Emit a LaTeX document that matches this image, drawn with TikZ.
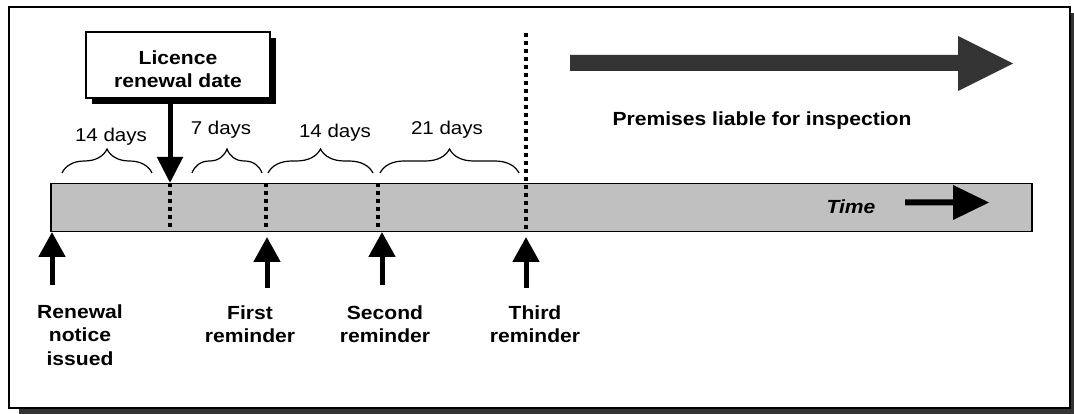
\documentclass[tikz,border=0pt]{standalone}
\usepackage{fontspec}
\setmainfont{Liberation Sans}[FakeStretch=1.11]
\usetikzlibrary{arrows.meta,decorations.pathreplacing}
\definecolor{bargray}{HTML}{C0C0C0}
\definecolor{darkarrow}{HTML}{333333}
\begin{document}
\begin{tikzpicture}[x=1pt,y=-1pt,
  lbl/.style={font=\fontsize{19}{23.5}\selectfont\bfseries, align=center, inner sep=0pt},
  daylbl/.style={font=\fontsize{18.5}{22}\selectfont, inner sep=0pt},
  upar/.style={line width=5pt, -{Triangle[width=26pt,length=25pt]}},
  dots/.style={line width=4pt, dash pattern=on 4pt off 4pt},
  bracestyle/.style={line width=1.2pt, decorate, decoration={brace, amplitude=24pt}}]
\useasboundingbox (0,0) rectangle (1074,414);
% frame with shadow
\fill[darkarrow] (19,13) rectangle (1080,420);
\draw[line width=1.5pt, fill=white] (9,7) rectangle (1070,408);

% time bar
\node[draw=black, line width=1.5pt, fill=bargray, minimum width=981pt, minimum height=48pt, inner sep=0pt, anchor=north west] (bar) at (50,183) {};

% dotted lines
\coordinate (d1t) at (170,183); \coordinate (d1b) at (170,231);
\coordinate (d2t) at (266,183); \coordinate (d2b) at (266,231);
\coordinate (d3t) at (378,183); \coordinate (d3b) at (378,231);
\coordinate (d4t) at (526,33);  \coordinate (d4b) at (526,231);
\draw[dots] (d1t) -- (d1b);
\draw[dots] (d2t) -- (d2b);
\draw[dots] (d3t) -- (d3b);
\draw[dots] (d4t) -- (d4b);

% licence box
\fill[black] (92,38) rectangle (276,104);
\node[draw=black, line width=2pt, fill=white, minimum width=184pt, minimum height=66pt, inner sep=0pt] (lic) at (178,65) {};
\node[lbl] (lictext) at (178,69) {Licence\\renewal date};
\coordinate (licend) at (170,183);
\draw[line width=5pt, -{Triangle[width=25pt,length=26pt]}] (lic.south -| licend) -- (licend);

% braces
\coordinate (b1a) at (62,173);  \coordinate (b1b) at (152,173);
\coordinate (b2a) at (192,173); \coordinate (b2b) at (262,173);
\coordinate (b3a) at (268,173); \coordinate (b3b) at (373,173);
\coordinate (b4a) at (380,173); \coordinate (b4b) at (519,173);
\draw[bracestyle] (b1a) -- (b1b);
\draw[bracestyle] (b2a) -- (b2b);
\draw[bracestyle] (b3a) -- (b3b);
\draw[bracestyle] (b4a) -- (b4b);
\node[daylbl] (t1) at (111,137) {14 days};
\node[daylbl] (t2) at (221,130) {7 days};
\node[daylbl] (t3) at (335,133) {14 days};
\node[daylbl] (t4) at (447,130) {21 days};

% premises arrow
\fill[darkarrow] (570,55) -- (958,55) -- (958,36) -- (1013,63.5) -- (958,91) -- (958,71) -- (570,71) -- cycle;
\node[lbl] (prem) at (762,121) {Premises liable for inspection};

% time arrow
\node[lbl, font=\fontsize{19}{23}\selectfont\bfseries\itshape] (time) at (851,207) {Time};
\fill[black] (905,199.5) -- (953,199.5) -- (953,185) -- (989,202.5) -- (953,220) -- (953,205.5) -- (905,205.5) -- cycle;

% bottom labels and arrows
\node[lbl] (ren) at (80,335) {Renewal\\notice\\issued};
\node[lbl] (fst) at (250,324) {First\\reminder};
\node[lbl] (snd) at (385,324) {Second\\reminder};
\node[lbl] (thd) at (535,324) {Third\\reminder};
\coordinate (r0) at (52,285);  \coordinate (r1) at (52,232);
\coordinate (f0) at (267,288); \coordinate (f1) at (267,237);
\coordinate (s0) at (382,285); \coordinate (s1) at (382,232);
\coordinate (h0) at (526,288); \coordinate (h1) at (526,237);
\draw[upar] (r0) -- (r1);
\draw[upar] (f0) -- (f1);
\draw[upar] (s0) -- (s1);
\draw[upar] (h0) -- (h1);
\end{tikzpicture}
\end{document}
